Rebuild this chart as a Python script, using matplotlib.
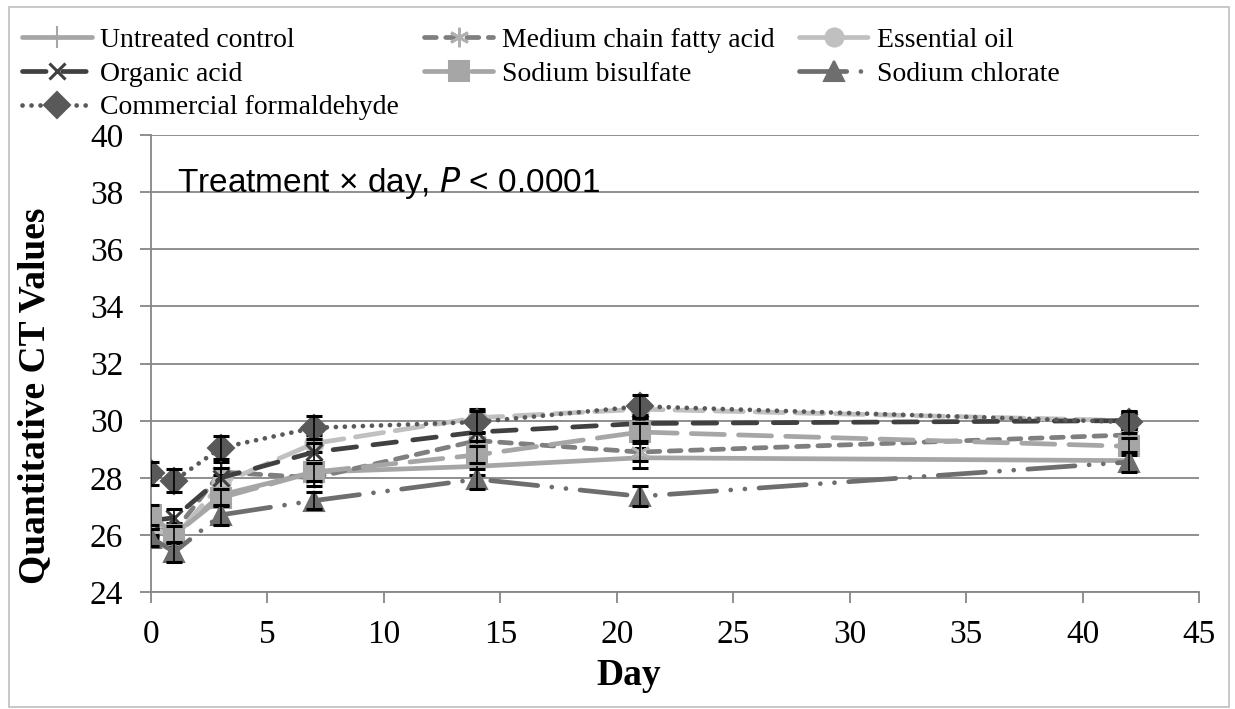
import matplotlib.pyplot as plt
import matplotlib.patches as patches

# data
days = [0, 1, 3, 7, 14, 21, 42]

untreated = [26.3, 26.0, 27.4, 28.2, 28.4, 28.7, 28.6]
mcfa = [26.2, 26.1, 28.2, 28.0, 29.3, 28.9, 29.5]
essential_oil = [26.3, 25.9, 27.8, 29.2, 30.1, 30.4, 30.0]
organic_acid = [26.5, 26.6, 28.0, 28.9, 29.6, 29.9, 30.0]
bisulfate = [26.7, 26.0, 27.3, 28.2, 28.8, 29.6, 29.1]
chlorate = [25.9, 25.4, 26.7, 27.2, 27.95, 27.35, 28.55]
formaldehyde = [28.15, 27.9, 29.05, 29.75, 29.95, 30.5, 29.95]

untreated_se = [0.3, 0.3, 0.3, 0.3, 0.3, 0.35, 0.3]
mcfa_se = [0.3, 0.3, 0.35, 0.3, 0.3, 0.3, 0.3]
essential_oil_se = [0.3, 0.3, 0.3, 0.3, 0.3, 0.3, 0.3]
organic_acid_se = [0.3, 0.3, 0.35, 0.3, 0.3, 0.3, 0.3]
bisulfate_se = [0.35, 0.3, 0.3, 0.3, 0.3, 0.3, 0.3]
chlorate_se = [0.3, 0.35, 0.35, 0.3, 0.35, 0.35, 0.35]
formaldehyde_se = [0.4, 0.4, 0.4, 0.4, 0.4, 0.4, 0.4]

labels = ['Untreated control', 'Medium chain fatty acid', 'Essential oil',
          'Organic acid', 'Sodium bisulfate', 'Sodium chlorate',
          'Commercial formaldehyde']

plt.rcParams['font.family'] = ['Liberation Serif', 'DejaVu Serif']

fig = plt.figure(figsize=(12.35, 7.09), dpi=100)
ax = fig.add_axes([0.1223, 0.165, 0.8486, 0.6446])

# label, values, errors, line color, marker, marker color, dashes
series = [
    (labels[0], untreated, untreated_se, '#a6a6a6', '|', '#a6a6a6', None),
    (labels[1], mcfa, mcfa_se, '#7f7f7f', (6, 2, 0), '#b0b0b0', (2.5, 2.0)),
    (labels[2], essential_oil, essential_oil_se, '#c0c0c0', 'o', '#c0c0c0', (6, 2.5)),
    (labels[3], organic_acid, organic_acid_se, '#404040', 'x', '#404040', (5, 3.5)),
    (labels[4], bisulfate, bisulfate_se, '#a6a6a6', 's', '#a6a6a6', (7, 3)),
    (labels[5], chlorate, chlorate_se, '#6e6e6e', '^', '#6e6e6e', (10, 3, 0.01, 3, 0.01, 3)),
    (labels[6], formaldehyde, formaldehyde_se, '#595959', 'D', '#595959', (0.01, 1.9)),
]

handles = {}
for i, (lab, vals, se, col, mk, mcol, dash) in enumerate(series):
    ms = 14
    mew = 1.5
    if mk == 'x':
        ms, mew = 12, 2.2
    elif mk == '|':
        ms, mew = 16, 1.5
    elif mk == 'D':
        ms = 13
    elif mk == 'o':
        ms = 13
    elif isinstance(mk, tuple):
        ms, mew = 14, 2.0
    line, = ax.plot(days, vals, color=col, lw=3.4, marker=mk, markersize=ms,
                    markerfacecolor=mcol, markeredgecolor=mcol, markeredgewidth=mew,
                    solid_capstyle='round', dash_capstyle='round',
                    label=lab, zorder=3 + 2 * i)
    if dash is not None:
        line.set_dashes(dash)
    ax.errorbar(days, vals, yerr=se, fmt='none', ecolor='black', elinewidth=1.2,
                capsize=6, capthick=2.2, zorder=4 + 2 * i)
    handles[lab] = line

ax.set_xlim(0, 45)
ax.set_ylim(24, 40)
ax.set_xticks(range(0, 46, 5))
ax.set_yticks(range(24, 41, 2))
ax.grid(axis='y', color='#868686', lw=1.3)
ax.set_axisbelow(True)
for s in ['top', 'right']:
    ax.spines[s].set_visible(False)
for s in ['left', 'bottom']:
    ax.spines[s].set_color('#868686')
    ax.spines[s].set_linewidth(1.3)
ax.tick_params(axis='both', direction='out', length=8, width=1.3, color='#868686',
               labelsize=24, pad=12)

ax.set_xlabel('Day', fontsize=27, fontweight='bold')
ax.xaxis.set_label_coords(0.456, -0.145)
ax.set_ylabel('Quantitative CT Values', fontsize=27, fontweight='bold')
ax.yaxis.set_label_coords(-0.094, 0.43)

ax.text(1.1, 38.0, 'Treatment \u00d7 day, $\\mathit{P}$ < 0.0001', fontsize=24,
        family=['Liberation Sans', 'DejaVu Sans'], va='baseline', ha='left')

order = [labels[0], labels[3], labels[6], labels[1], labels[4], labels[2], labels[5]]
fig.legend([handles[k] for k in order], order, ncol=3, frameon=False,
           loc='upper left', bbox_to_anchor=(0.009, 0.977), fontsize=20,
           handlelength=2.5, handletextpad=0.3, columnspacing=0.9,
           labelspacing=0.3, borderaxespad=0)

fig.patches.append(patches.Rectangle((0.007, 0.003), 0.988, 0.987,
                                     transform=fig.transFigure, fill=False,
                                     edgecolor='#bfbfbf', lw=1.2))

fig.savefig('out.png', dpi=100)
